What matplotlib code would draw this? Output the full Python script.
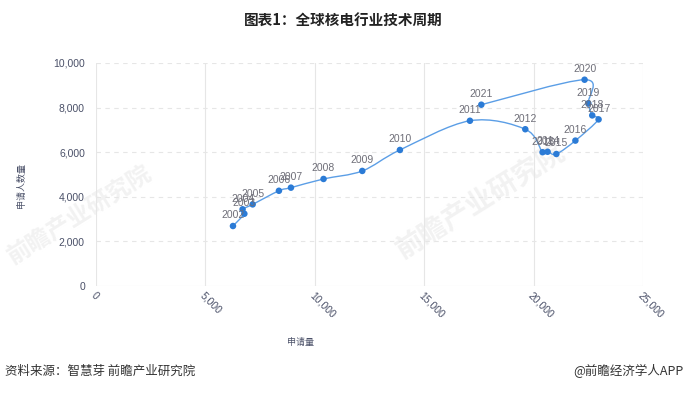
import numpy as np
import matplotlib.pyplot as plt
from matplotlib.path import Path
from matplotlib.patches import PathPatch

plt.rcParams['font.family'] = ['Noto Sans CJK SC', 'DejaVu Sans']

# 数据：申请量 vs 申请人数量
years = ['2002', '2003', '2004', '2005', '2006', '2007', '2008', '2009', '2010', '2011',
         '2012', '2013', '2014', '2015', '2016', '2017', '2018', '2019', '2020', '2021']
applications = [6260, 6780, 6700, 7160, 8360, 8910, 10400, 12170, 13890, 17090,
                19620, 20410, 20640, 21040, 21910, 22970, 22680, 22500, 22330, 17610]
applicants = [2690, 3240, 3440, 3660, 4270, 4410, 4800, 5160, 6100, 7410,
              7030, 6000, 6020, 5920, 6520, 7470, 7650, 8190, 9250, 8130]
x_ticks = [0, 5000, 10000, 15000, 20000, 25000]
y_ticks = [0, 2000, 4000, 6000, 8000, 10000]

W, H = 686, 393
fig = plt.figure(figsize=(W / 100, H / 100), dpi=100)

# 水印
fig.text(80 / W, 1 - 215 / H, '前瞻产业研究院', rotation=32, ha='center', va='center',
         fontsize=17, fontweight='bold', color='#f2f2f2', zorder=-5)
fig.text(480 / W, 1 - 200 / H, '前瞻产业研究院', rotation=32, ha='center', va='center',
         fontsize=20, fontweight='bold', color='#f2f2f2', zorder=-5)

ax = fig.add_axes([96 / W, 1 - 286 / H, (643 - 96) / W, (286 - 63) / H])
ax.patch.set_alpha(0)

# 平滑曲线 (Catmull-Rom -> Bezier)
pts = np.column_stack([applications, applicants]).astype(float)
verts = [pts[0]]
codes = [Path.MOVETO]
t = 0.5
for i in range(len(pts) - 1):
    p0 = pts[i - 1] if i > 0 else pts[i]
    p1, p2 = pts[i], pts[i + 1]
    p3 = pts[i + 2] if i + 2 < len(pts) else pts[i + 1]
    c1 = p1 + (p2 - p0) * t / 3
    c2 = p2 - (p3 - p1) * t / 3
    verts += [c1, c2, p2]
    codes += [Path.CURVE4] * 3
ax.add_patch(PathPatch(Path(verts, codes), fill=False, edgecolor='#5b9ee6', lw=1.0, zorder=2))

ax.scatter(applications, applicants, s=22, color='#2b7bd6', zorder=3, edgecolors='none')
for x, y, lab in zip(applications, applicants, years):
    ax.annotate(lab, (x, y), xytext=(0, 4), textcoords='offset points', ha='center', va='bottom',
                fontsize=7.5, color='#6e6e78', family=['Liberation Sans'], zorder=4)

ax.set_xlim(0, 25000)
ax.set_ylim(0, 10000)
ax.set_xticks(x_ticks)
ax.set_yticks(y_ticks)
ax.set_xticklabels([f'{v:,}' for v in x_ticks], rotation=-45, ha='left', va='top',
                   fontsize=7.5, color='#4a5068', family=['Liberation Sans'], rotation_mode='anchor')
ax.set_yticklabels([f'{v:,}' for v in y_ticks], fontsize=7.5, color='#4a5068', family=['Liberation Sans'])
ax.tick_params(length=0, pad=8)
ax.tick_params(axis='x', pad=3)

for v in x_ticks:
    ax.axvline(v, color='#e6e6e6', lw=0.8, zorder=0)
for v in y_ticks[1:]:
    ax.axhline(v, color='#e6e6e6', lw=0.8, ls=(0, (4, 4)), zorder=0)
ax.axhline(0, color='#e6e6e6', lw=0.8, zorder=0)
for s in ax.spines.values():
    s.set_visible(False)

fig.text(22 / W, 1 - 186 / H, '申请人数量', rotation=90, ha='center', va='center', fontsize=6.5, color='#4a5068')
fig.text(300 / W, 1 - 343 / H, '申请量', ha='center', va='center', fontsize=6.5, color='#4a5068')

fig.text(0.5, 1 - 21 / H, '图表1：全球核电行业技术周期', ha='center', va='center',
         fontsize=10.5, fontweight='bold', color='#222222')
fig.text(5 / W, 1 - 371 / H, '资料来源：智慧芽 前瞻产业研究院', ha='left', va='center',
         fontsize=9, color='#333333')
fig.text(684 / W, 1 - 371 / H, '@前瞻经济学人APP', ha='right', va='center',
         fontsize=9, color='#333333')

fig.savefig('out.png', dpi=100)
